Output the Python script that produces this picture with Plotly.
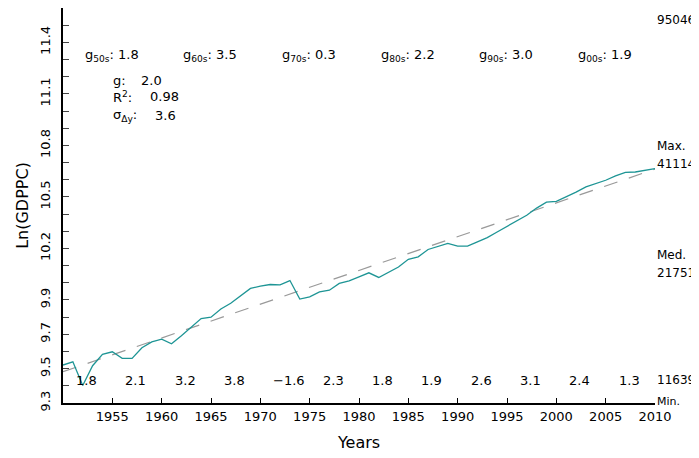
import numpy as np
import plotly.graph_objects as go

# Ln of GDP per capita, 1950-2010
years = list(range(1950, 2011))
ln_gdppc = [
    9.521, 9.540, 9.402, 9.517, 9.583, 9.598, 9.560, 9.560, 9.622, 9.656,
    9.672, 9.645, 9.691, 9.740, 9.792, 9.800, 9.847, 9.881, 9.924, 9.967,
    9.980, 9.990, 9.988, 10.013, 9.905, 9.918, 9.947, 9.957, 9.996, 10.011,
    10.034, 10.058, 10.031, 10.060, 10.092, 10.137, 10.151, 10.194, 10.213, 10.229,
    10.213, 10.213, 10.238, 10.263, 10.296, 10.329, 10.360, 10.393, 10.435, 10.470,
    10.474, 10.499, 10.528, 10.558, 10.577, 10.597, 10.622, 10.643, 10.645, 10.655,
    10.665,
]

# fitted trend (end points)
trend_years = [1950, 2010]
trend_ln = [9.482, 10.662]

decades = ["50s", "60s", "70s", "80s", "90s", "00s"]
decade_growth = ["1.8", "3.5", "0.3", "2.2", "3.0", "1.9"]
five_year_growth = ["1.8", "2.1", "3.2", "3.8", "\u22121.6", "2.3",
                    "1.8", "1.9", "2.6", "3.1", "2.4", "1.3"]

stat_labels = ["g:", "R<sup>2</sup>:", "\u03c3<sub>\u0394y</sub>:"]
stat_values = ["2.0", "0.98", "3.6"]

level_top = 95046
level_max = 41114
level_med = 21751
level_min = 11639

FONT = "DejaVu Sans"
TEAL = "#1e9595"

fig = go.Figure()

fig.add_trace(
    go.Scatter(
        x=trend_years,
        y=trend_ln,
        mode="lines",
        line=dict(color="#999999", width=1.2, dash="14px,12px"),
        showlegend=False,
        hoverinfo="skip",
    )
)
fig.add_trace(
    go.Scatter(
        x=years,
        y=ln_gdppc,
        mode="lines",
        line=dict(color=TEAL, width=1.3),
        showlegend=False,
    )
)

annotations = []
txt = dict(family=FONT, size=13, color="black")

# decade growth rates along the top
for i, (d, g) in enumerate(zip(decades, decade_growth)):
    annotations.append(dict(
        x=1952 + 10 * i, y=0.879, xref="x", yref="paper",
        text=f"g<sub>{d}</sub>: {g}", showarrow=False,
        xanchor="left", yanchor="middle", font=txt,
    ))

# summary statistics
stat_y = [0.816, 0.775, 0.727]
stat_x_val = [1957.7, 1958.6, 1959.1]
for lab, val, yy, xv in zip(stat_labels, stat_values, stat_y, stat_x_val):
    annotations.append(dict(
        x=1954.9, y=yy, xref="x", yref="paper", text=lab, showarrow=False,
        xanchor="left", yanchor="middle", font=txt,
    ))
    annotations.append(dict(
        x=xv, y=yy, xref="x", yref="paper", text=val, showarrow=False,
        xanchor="left", yanchor="middle", font=txt,
    ))

# five-year growth rates along the bottom
for i, g in enumerate(five_year_growth):
    annotations.append(dict(
        x=1951.1 + 5 * i, y=0.056, xref="x", yref="paper",
        text=g, showarrow=False, xanchor="left", yanchor="middle", font=txt,
    ))

# level markers on the right
small = dict(family=FONT, size=12, color="black")
for val in [level_top, level_max, level_med, level_min]:
    annotations.append(dict(
        x=1.0, y=float(np.log(val)), xref="paper", yref="y",
        text=str(val), showarrow=False, xanchor="left", yanchor="bottom",
        yshift=3, font=small,
    ))
for val, lab in [(level_max, "Max."), (level_med, "Med.")]:
    annotations.append(dict(
        x=1.0, y=float(np.log(val)), xref="paper", yref="y",
        text=lab, showarrow=False, xanchor="left", yanchor="bottom",
        yshift=21, font=small,
    ))
annotations.append(dict(
    x=1.0, y=float(np.log(level_min)), xref="paper", yref="y",
    text="Min.", showarrow=False, xanchor="left", yanchor="top",
    yshift=-1, font=dict(family=FONT, size=11, color="black"),
))

y_ticks = [round(9.3 + 0.1 * k, 1) for k in range(24)]
y_labelled = {9.3, 9.5, 9.7, 9.9, 10.2, 10.5, 10.8, 11.1, 11.4}
y_text = [str(v) if v in y_labelled else "" for v in y_ticks]

# the page body adds an 8px margin, so the figure is sized to fit the window
fig.update_layout(
    width=691,
    height=450,
    margin=dict(l=55, r=44, t=0, b=55),
    paper_bgcolor="white",
    plot_bgcolor="white",
    font=dict(family=FONT, size=13, color="black"),
    annotations=annotations,
    xaxis=dict(
        range=[1950, 2010],
        tickvals=list(range(1955, 2011, 5)),
        ticks="inside",
        ticklen=5,
        tickcolor="black",
        showline=True,
        linecolor="black",
        linewidth=2,
        showgrid=False,
        zeroline=False,
        automargin=False,
        title=dict(text="Years", font=dict(size=16), standoff=14),
    ),
    yaxis=dict(
        range=[9.3, 11.6],
        tickvals=y_ticks,
        ticktext=y_text,
        tickangle=-90,
        ticks="inside",
        ticklen=6,
        tickcolor="#444444",
        showline=True,
        linecolor="black",
        linewidth=2,
        showgrid=False,
        zeroline=False,
        automargin=False,
        ticklabelstandoff=6,
        title=dict(text="Ln(GDPPC)", font=dict(size=16), standoff=5),
    ),
)

fig.write_html("out.html")
